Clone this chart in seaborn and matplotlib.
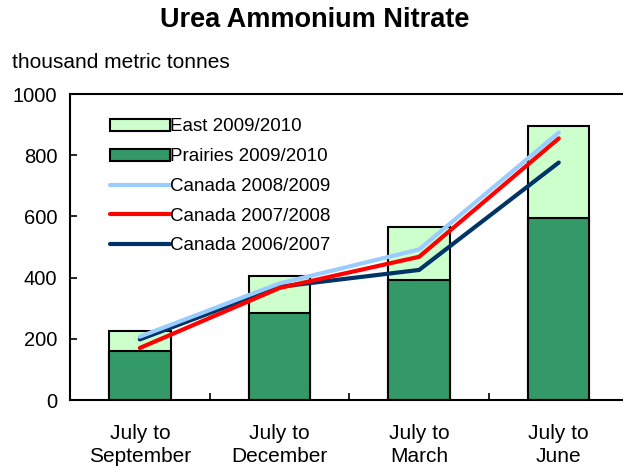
import matplotlib
matplotlib.use("Agg")
import matplotlib.pyplot as plt
import numpy as np
import pandas as pd
import seaborn as sns
from matplotlib.patches import Patch
from matplotlib.lines import Line2D

periods = ["July to\nSeptember", "July to\nDecember", "July to\nMarch", "July to\nJune"]
prairies_0910 = [160, 284, 392, 595]
east_0910 = [65, 121, 173, 300]
canada_0809 = [207, 381, 492, 874]
canada_0708 = [170, 366, 468, 855]
canada_0607 = [198, 370, 425, 776]

sns.set_style("ticks")
plt.rcParams["font.family"] = ["Liberation Sans", "DejaVu Sans"]
plt.rcParams["text.color"] = "black"
plt.rcParams["xtick.color"] = "black"
plt.rcParams["ytick.color"] = "black"
plt.rcParams["axes.edgecolor"] = "black"

df = pd.DataFrame({"period": periods, "prairies": prairies_0910, "east": east_0910})
df["total"] = df["prairies"] + df["east"]

fig = plt.figure(figsize=(6.23, 4.70), dpi=100)
ax = fig.add_axes([70 / 623, 70 / 470, 553 / 623, 306 / 470])

light_green = "#CCFFCC"
dark_green = "#339966"
sns.barplot(data=df, x="period", y="total", color=light_green, width=0.44,
            edgecolor="black", linewidth=1.5, saturation=1, ax=ax)
sns.barplot(data=df, x="period", y="prairies", color=dark_green, width=0.44,
            edgecolor="black", linewidth=1.5, saturation=1, ax=ax)

pos = np.arange(len(periods))
line_specs = [
    (canada_0607, "#003366", "Canada 2006/2007"),
    (canada_0708, "#FF0000", "Canada 2007/2008"),
    (canada_0809, "#99CCFF", "Canada 2008/2009"),
]
for vals, col, lab in line_specs:
    sns.lineplot(x=pos, y=vals, color=col, linewidth=3.0, ax=ax,
                 solid_capstyle="round", solid_joinstyle="miter")

ax.set_xlim(-0.5, 3.46)
ax.set_ylim(0, 1000)
ax.set_yticks([0, 200, 400, 600, 800, 1000])
ax.set_xlabel("")
ax.set_ylabel("")
ax.set_xticks(pos)
ax.set_xticklabels(periods, linespacing=1.3)
ax.set_xticks(pos[:-1] + 0.5, minor=True)
ax.tick_params(axis="x", which="major", length=0, pad=17, labelsize=15)
ax.tick_params(axis="x", which="minor", direction="in", length=5, width=1.2)
ax.tick_params(axis="y", direction="in", length=5, width=1.2, pad=9, labelsize=14.5)

for s in ["left", "bottom", "top"]:
    ax.spines[s].set_linewidth(1.5)
ax.spines["right"].set_visible(False)

handles = [
    Patch(facecolor=light_green, edgecolor="black", linewidth=1.5, label="East 2009/2010"),
    Patch(facecolor=dark_green, edgecolor="black", linewidth=1.5, label="Prairies 2009/2010"),
    Line2D([], [], color="#99CCFF", linewidth=3.0, label="Canada 2008/2009"),
    Line2D([], [], color="#FF0000", linewidth=3.0, label="Canada 2007/2008"),
    Line2D([], [], color="#003366", linewidth=3.0, label="Canada 2006/2007"),
]
ax.legend(handles=handles, loc="upper left", bbox_to_anchor=(0.072, 0.92),
          frameon=False, fontsize=13.5, handlelength=3.2, handleheight=0.6,
          handletextpad=0.0, labelspacing=0.68, borderpad=0, borderaxespad=0)

fig.text(315 / 623, 1 - 20 / 470, "Urea Ammonium Nitrate", ha="center", va="center",
         fontsize=19.5, fontweight="bold")
fig.text(12 / 623, 1 - 62 / 470, "thousand metric tonnes", ha="left", va="center",
         fontsize=15)

fig.savefig("out.png", dpi=100)
